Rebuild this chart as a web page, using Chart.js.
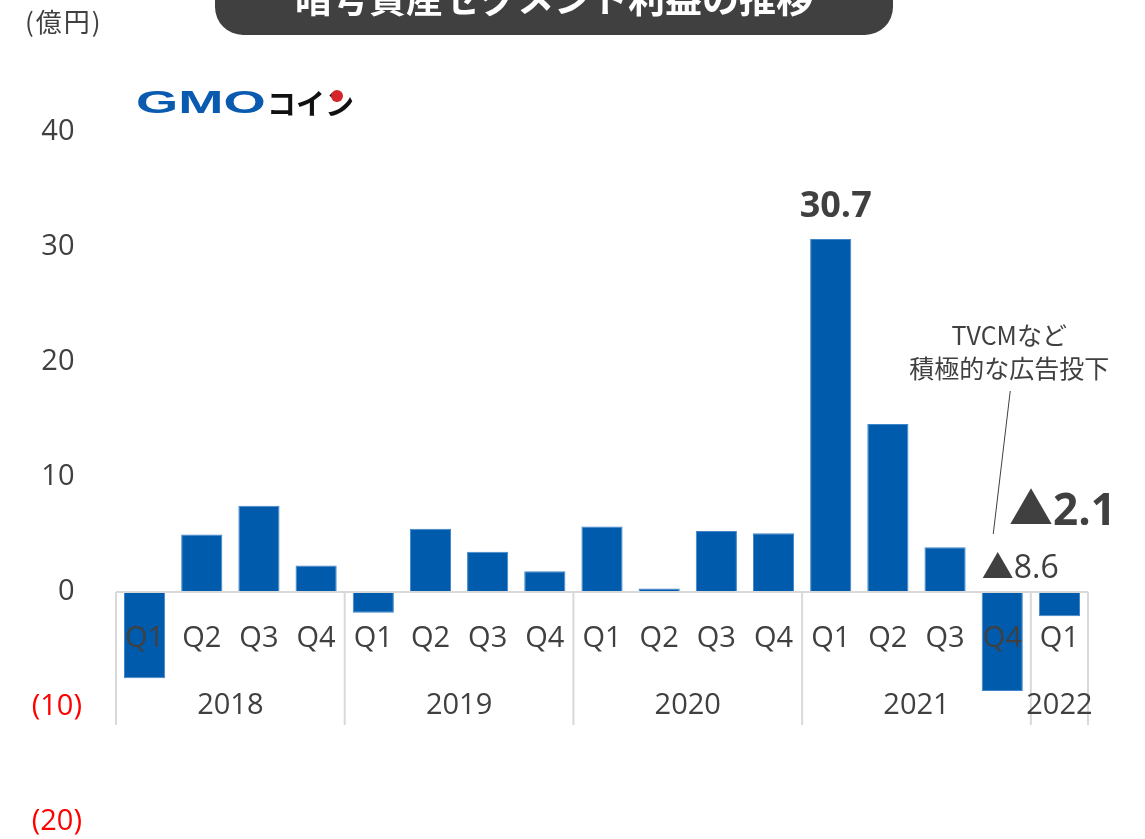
<!DOCTYPE html>
<html lang="ja">
<head>
<meta charset="utf-8">
<title>暗号資産セグメント利益の推移</title>
<script src="https://cdn.jsdelivr.net/npm/chart.js@4.4.1/dist/chart.umd.min.js"></script>
<style>
  html, body { margin: 0; padding: 0; background: #fff; overflow: hidden; }
  canvas { display: block; }
</style>
</head>
<body>
<canvas id="profitChart" width="1145" height="839"></canvas>
<script>
// chart data
const quarters = ['Q1', 'Q2', 'Q3', 'Q4', 'Q1', 'Q2', 'Q3', 'Q4', 'Q1', 'Q2', 'Q3', 'Q4', 'Q1', 'Q2', 'Q3', 'Q4', 'Q1'];
const years = ['2018', '2019', '2020', '2021', '2022'];
const quartersPerYear = [4, 4, 4, 4, 1];
const profit = [-7.5, 5.0, 7.5, 2.3, -1.8, 5.5, 3.5, 1.8, 5.7, 0.3, 5.3, 5.1, 30.7, 14.6, 3.9, -8.6, -2.1];
const yMin = -20, yMax = 40, yStep = 10;

const titleText = '暗号資産セグメント利益の推移';
const unitText = '(億円)';
const calloutLines = ['TVCMなど', '積極的な広告投下'];

const TEXT = '#404040';
const GRID = '#d9d9d9';
const BAR = '#005bac';
const FONT = '"Open Sans", "Noto Sans CJK JP", sans-serif';
const JP = '"Noto Sans CJK JP", "Open Sans", sans-serif';

function fmtValue(v) {
    return v < 0 ? '▲' + Math.abs(v).toFixed(1) : v.toFixed(1);
}

// draws the category axis, title, logo and notes
const overlay = {
    id: 'overlay',
    afterDatasetsDraw(chart) {
        const ctx = chart.ctx;
        const area = chart.chartArea;
        const x = chart.scales.x;
        const y = chart.scales.y;
        const zeroY = y.getPixelForValue(0);
        const step = (area.right - area.left) / quarters.length;
        const bars = chart.getDatasetMeta(0).data;
        ctx.save();

        // zero line + year separators
        ctx.strokeStyle = GRID;
        ctx.lineWidth = 2;
        ctx.beginPath();
        ctx.moveTo(area.left, zeroY);
        ctx.lineTo(area.right, zeroY);
        let idx = 0;
        const sepBottom = zeroY + 133;
        ctx.moveTo(area.left, zeroY);
        ctx.lineTo(area.left, sepBottom);
        quartersPerYear.forEach(n => {
            idx += n;
            const sx = area.left + idx * step;
            ctx.moveTo(sx, zeroY);
            ctx.lineTo(sx, sepBottom);
        });
        ctx.stroke();

        // quarter labels
        ctx.fillStyle = TEXT;
        ctx.textAlign = 'center';
        ctx.textBaseline = 'middle';
        ctx.font = '29px ' + FONT;
        quarters.forEach((q, i) => {
            ctx.fillText(q, x.getPixelForValue(i), zeroY + 47);
        });

        // year labels
        idx = 0;
        years.forEach((yr, i) => {
            const cx = area.left + (idx + quartersPerYear[i] / 2) * step;
            ctx.fillText(yr, cx, zeroY + 114);
            idx += quartersPerYear[i];
        });

        // value notes
        const peak = bars[12];
        ctx.font = 'bold 36px ' + FONT;
        ctx.fillText(fmtValue(profit[12]), peak.x + 5, peak.y - 32);

        const q4 = bars[15];
        ctx.font = '32px ' + FONT;
        ctx.fillText(fmtValue(profit[15]), q4.x + 18, zeroY - 23);

        const last = bars[16];
        ctx.font = 'bold 44px ' + FONT;
        ctx.fillText(fmtValue(profit[16]), last.x + 3, zeroY - 80);

        // callout
        ctx.font = '25px ' + JP;
        ctx.fillText(calloutLines[0], q4.x + 7, 335);
        ctx.fillText(calloutLines[1], q4.x + 7, 368);
        ctx.strokeStyle = TEXT;
        ctx.lineWidth = 1;
        ctx.beginPath();
        ctx.moveTo(q4.x + 8, 391);
        ctx.lineTo(q4.x - 9, 534);
        ctx.stroke();

        // title box
        ctx.fillStyle = '#404040';
        ctx.beginPath();
        ctx.roundRect(215, -30, 678, 65, 28);
        ctx.fill();
        ctx.fillStyle = '#ffffff';
        ctx.font = 'bold 37px ' + JP;
        ctx.fillText(titleText, 554, -1);

        // unit
        ctx.fillStyle = TEXT;
        ctx.font = '26px ' + JP;
        ctx.textAlign = 'left';
        ctx.letterSpacing = '2px';
        ctx.fillText(unitText, 25, 22);
        ctx.letterSpacing = '0px';

        // logo
        ctx.save();
        ctx.translate(136, 104);
        ctx.scale(1.75, 1);
        ctx.font = 'bold 31px "Liberation Sans", sans-serif';
        ctx.fillStyle = '#0a5bb0';
        ctx.fillText('GMO', 0, 0);
        ctx.restore();
        ctx.font = 'bold 29px ' + JP;
        ctx.fillStyle = '#111111';
        ctx.fillText('コイン', 267, 104);
        ctx.fillStyle = '#d6242b';
        ctx.beginPath();
        ctx.arc(337, 96, 6, 0, Math.PI * 2);
        ctx.fill();

        ctx.restore();
    }
};

const ctx = document.getElementById('profitChart').getContext('2d');
new Chart(ctx, {
    type: 'bar',
    data: {
        labels: quarters,
        datasets: [{
            data: profit,
            backgroundColor: BAR,
            borderColor: '#3f85c9',
            borderWidth: 1,
            barPercentage: 0.72,
            categoryPercentage: 1
        }]
    },
    options: {
        responsive: false,
        animation: false,
        layout: { padding: { top: 132, right: 57, bottom: 17, left: 0 } },
        plugins: {
            legend: { display: false },
            tooltip: { enabled: false }
        },
        scales: {
            x: { display: false },
            y: {
                min: yMin,
                max: yMax,
                grid: { display: false, drawTicks: false },
                border: { display: false },
                afterFit: (s) => { s.width = 116; s.paddingTop = 0; s.paddingBottom = 0; },
                ticks: {
                    stepSize: yStep,
                    padding: 34,
                    font: { size: 29, family: FONT },
                    color: (c) => c.tick && c.tick.value < 0 ? '#ff0000' : TEXT,
                    callback: (v) => v < 0 ? '(' + Math.abs(v) + ')' : v + ' '
                }
            }
        }
    },
    plugins: [overlay]
});
</script>
</body>
</html>
